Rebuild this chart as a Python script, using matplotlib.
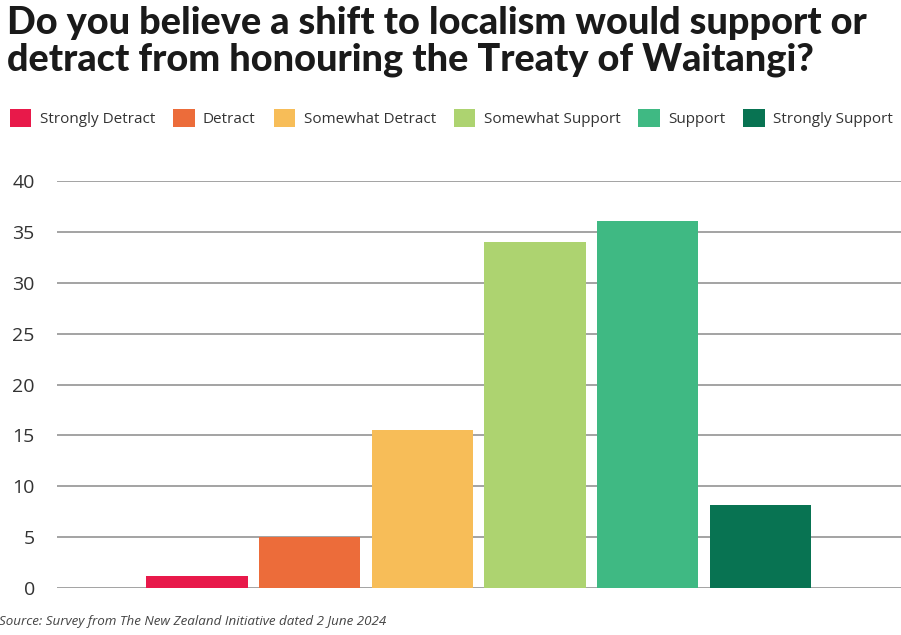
import matplotlib
matplotlib.use('Agg')
import matplotlib.pyplot as plt
from matplotlib.patches import Patch

# Survey responses (percent)
categories = ['Strongly Detract', 'Detract', 'Somewhat Detract',
              'Somewhat Support', 'Support', 'Strongly Support']
values = [1.2, 5.0, 15.5, 34.0, 36.1, 8.2]
colors = ['#e8194a', '#ec6c3a', '#f7bd58', '#add370', '#3fb983', '#087352']
yticks = [0, 5, 10, 15, 20, 25, 30, 35, 40]

title = 'Do you believe a shift to localism would support or\ndetract from honouring the Treaty of Waitangi?'
source = 'Source: Survey from The New Zealand Initiative dated 2 June 2024'

plt.rcParams['font.family'] = ['Open Sans', 'DejaVu Sans']

fig = plt.figure(figsize=(9.01, 6.35), dpi=100)
ax = fig.add_axes([57 / 901, 47 / 635, 844 / 901, 407 / 635])

x = list(range(len(categories)))
ax.bar(x, values, width=0.9, color=colors, zorder=3)

ax.set_ylim(0, 40)
ax.set_xlim(-1.244, 6.25)
ax.set_yticks(yticks)
ax.set_xticks([])
ax.yaxis.grid(True, color='#8a8a8a', linewidth=1.1, zorder=0)
for s in ax.spines.values():
    s.set_visible(False)
ax.tick_params(axis='y', length=0, pad=16, labelsize=14, labelcolor='#333333')

# title
fig.text(7 / 901, 1 - 6 / 635, title, ha='left', va='top', fontsize=27.3,
         fontweight='black', family=['Lato', 'DejaVu Sans'], color='#1a1a1a',
         linespacing=1.08)

# legend
handles = [Patch(facecolor=c, edgecolor='none') for c in colors]
fig.legend(handles, categories, loc='center left', bbox_to_anchor=(10 / 901, 1 - 118 / 635),
           ncol=6, frameon=False, fontsize=11, labelcolor='#333333', borderpad=0,
           borderaxespad=0, handlelength=1.4, handleheight=1.4, handletextpad=0.55,
           columnspacing=1.18)

fig.text(-1 / 901, 1 - 621 / 635, source, ha='left', va='center', fontsize=9.6,
         style='italic', color='#444444')

fig.savefig('out.png', dpi=100)
